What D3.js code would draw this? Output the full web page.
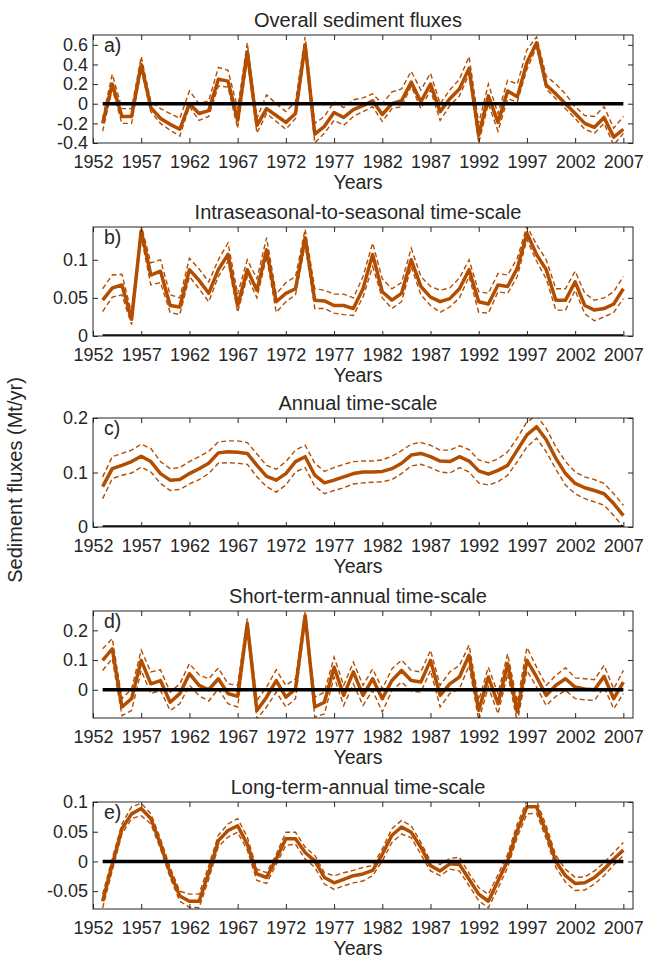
<!DOCTYPE html>
<html>
<head>
<meta charset="utf-8">
<script src="https://cdn.jsdelivr.net/npm/d3@7"></script>
<style>
  body { margin: 0; background: #fff; }
  text { font-family: "Liberation Sans", Arial, sans-serif; fill: #262626; }
</style>
</head>
<body>
<svg id="chart" width="646" height="959"></svg>
<script>
// ---- data ----
const years = [1953,1954,1955,1956,1957,1958,1959,1960,1961,1962,1963,1964,1965,1966,1967,1968,1969,1970,
  1971,1972,1973,1974,1975,1976,1977,1978,1979,1980,1981,1982,1983,1984,1985,1986,1987,1988,1989,1990,
  1991,1992,1993,1994,1995,1996,1997,1998,1999,2000,2001,2002,2003,2004,2005,2006,2007];
const xTickYears = [1952,1957,1962,1967,1972,1977,1982,1987,1992,1997,2002,2007];

// a) overall
const overallMid = [-0.20,0.20,-0.13,-0.13,0.40,-0.04,-0.15,-0.21,-0.26,0.00,-0.10,-0.07,0.25,0.23,-0.17,0.53,-0.22,-0.05,
  -0.12,-0.19,-0.10,0.60,-0.31,-0.23,-0.09,-0.14,-0.06,-0.02,0.03,-0.11,0.00,0.03,0.22,0.02,0.20,-0.08,0.05,0.15,
  0.36,-0.32,0.08,-0.19,0.13,0.07,0.42,0.62,0.19,0.10,0.00,-0.10,-0.20,-0.24,-0.14,-0.34,-0.26];
const overallUp = [-0.15,0.30,-0.05,-0.05,0.48,0.02,-0.05,-0.10,-0.15,0.13,0.00,0.03,0.37,0.34,-0.05,0.62,-0.15,0.09,
  0.00,-0.08,0.02,0.68,-0.20,-0.13,0.02,-0.04,0.04,0.06,0.10,0.00,0.12,0.15,0.33,0.14,0.31,0.00,0.14,0.25,
  0.48,-0.20,0.20,-0.10,0.24,0.20,0.55,0.68,0.28,0.20,0.10,-0.03,-0.12,-0.13,-0.03,-0.25,-0.13];
const overallLo = [-0.28,0.15,-0.20,-0.20,0.35,-0.08,-0.20,-0.27,-0.33,-0.03,-0.17,-0.13,0.18,0.17,-0.25,0.45,-0.30,-0.10,
  -0.18,-0.26,-0.15,0.55,-0.40,-0.30,-0.17,-0.22,-0.13,-0.08,-0.03,-0.18,-0.05,-0.03,0.18,-0.05,0.14,-0.17,-0.02,0.08,
  0.30,-0.40,0.00,-0.28,0.05,0.02,0.35,0.58,0.15,0.05,-0.05,-0.15,-0.26,-0.30,-0.20,-0.42,-0.30];

// b) intraseasonal-to-seasonal
const intraMid = [0.047,0.063,0.067,0.022,0.138,0.080,0.085,0.040,0.038,0.087,0.073,0.056,0.087,0.107,0.040,0.087,0.060,0.113,
  0.045,0.056,0.062,0.129,0.047,0.046,0.040,0.040,0.036,0.062,0.107,0.058,0.047,0.056,0.100,0.065,0.051,0.045,0.049,0.062,
  0.087,0.045,0.042,0.067,0.065,0.089,0.135,0.107,0.087,0.047,0.047,0.071,0.040,0.034,0.036,0.042,0.062];
const intraUp = [0.062,0.080,0.081,0.030,0.145,0.096,0.100,0.054,0.050,0.102,0.088,0.071,0.100,0.122,0.055,0.100,0.075,0.129,
  0.055,0.070,0.078,0.140,0.062,0.060,0.055,0.055,0.050,0.078,0.122,0.075,0.062,0.070,0.115,0.078,0.065,0.060,0.063,0.076,
  0.100,0.058,0.056,0.082,0.080,0.102,0.144,0.120,0.100,0.062,0.062,0.085,0.056,0.047,0.050,0.058,0.078];
const intraLo = [0.032,0.051,0.054,0.015,0.130,0.067,0.070,0.031,0.028,0.078,0.062,0.045,0.078,0.098,0.031,0.078,0.050,0.104,
  0.031,0.045,0.054,0.120,0.036,0.036,0.030,0.028,0.027,0.051,0.091,0.050,0.036,0.045,0.091,0.054,0.040,0.031,0.038,0.050,
  0.078,0.031,0.030,0.058,0.056,0.078,0.127,0.098,0.075,0.034,0.034,0.060,0.029,0.020,0.025,0.031,0.049];

// c) annual
const annualMid = [0.074,0.107,0.113,0.120,0.130,0.120,0.098,0.086,0.087,0.098,0.107,0.117,0.136,0.138,0.137,0.135,0.113,0.093,
  0.086,0.098,0.120,0.129,0.095,0.081,0.086,0.092,0.098,0.101,0.101,0.102,0.107,0.117,0.132,0.135,0.129,0.121,0.120,0.129,
  0.121,0.103,0.097,0.104,0.113,0.141,0.169,0.184,0.160,0.126,0.098,0.080,0.072,0.067,0.061,0.043,0.021];
const annualUp = [0.092,0.129,0.135,0.141,0.152,0.144,0.120,0.107,0.109,0.120,0.129,0.139,0.156,0.158,0.158,0.155,0.134,0.113,
  0.106,0.120,0.141,0.150,0.117,0.102,0.109,0.115,0.120,0.121,0.121,0.123,0.130,0.140,0.152,0.155,0.150,0.141,0.141,0.149,
  0.142,0.123,0.118,0.125,0.138,0.163,0.193,0.204,0.181,0.147,0.120,0.101,0.092,0.087,0.080,0.061,0.040];
const annualLo = [0.052,0.089,0.095,0.099,0.110,0.101,0.080,0.067,0.069,0.079,0.087,0.098,0.117,0.118,0.117,0.115,0.092,0.074,
  0.064,0.077,0.101,0.109,0.075,0.061,0.067,0.072,0.079,0.081,0.082,0.083,0.087,0.098,0.112,0.115,0.109,0.101,0.099,0.109,
  0.101,0.081,0.077,0.083,0.095,0.120,0.147,0.163,0.138,0.106,0.077,0.061,0.052,0.046,0.040,0.021,0.000];

// d) short-term-annual
const shortMid = [0.099,0.138,-0.058,-0.030,0.099,0.020,0.031,-0.042,-0.013,0.054,0.015,0.000,0.037,-0.013,-0.022,0.222,-0.070,-0.025,
  0.031,-0.025,0.003,0.250,-0.058,-0.042,0.076,-0.019,0.060,-0.019,0.037,-0.030,0.031,0.065,0.031,0.026,0.099,-0.019,0.020,0.043,
  0.116,-0.070,0.043,-0.047,0.088,-0.075,0.099,0.043,-0.019,0.015,0.037,0.009,0.003,0.000,0.045,-0.030,0.026];
const shortUp = [0.138,0.172,-0.030,0.003,0.133,0.060,0.067,-0.008,0.020,0.088,0.050,0.037,0.073,0.020,0.015,0.240,-0.036,0.009,
  0.067,0.015,0.037,0.262,-0.025,-0.008,0.110,0.015,0.093,0.015,0.070,0.003,0.070,0.100,0.065,0.060,0.133,0.015,0.060,0.082,
  0.150,-0.036,0.076,-0.013,0.121,-0.042,0.142,0.076,0.015,0.048,0.074,0.040,0.037,0.034,0.082,0.003,0.065];
const shortLo = [0.065,0.105,-0.087,-0.070,0.065,-0.013,-0.002,-0.070,-0.047,0.015,-0.020,-0.038,0.003,-0.047,-0.058,0.200,-0.098,-0.058,
  -0.008,-0.058,-0.030,0.234,-0.092,-0.081,0.043,-0.053,0.020,-0.053,-0.002,-0.075,-0.002,0.026,-0.004,-0.008,0.065,-0.058,-0.013,0.003,
  0.082,-0.103,0.009,-0.081,0.054,-0.109,0.065,0.009,-0.053,-0.022,-0.002,-0.030,-0.034,-0.036,0.009,-0.064,-0.013];

// e) long-term-annual
const longMid = [-0.067,-0.005,0.055,0.080,0.089,0.072,0.029,-0.019,-0.058,-0.067,-0.067,-0.019,0.035,0.052,0.060,0.029,-0.021,-0.027,
  0.004,0.038,0.038,0.015,0.001,-0.027,-0.036,-0.030,-0.024,-0.021,-0.015,0.012,0.044,0.058,0.049,0.024,-0.007,-0.016,-0.004,-0.005,
  -0.030,-0.055,-0.067,-0.033,0.001,0.052,0.092,0.092,0.049,0.000,-0.024,-0.037,-0.036,-0.027,-0.013,0.004,0.019];
const longUp = [-0.055,0.005,0.063,0.092,0.098,0.080,0.038,-0.010,-0.050,-0.055,-0.055,-0.007,0.044,0.063,0.072,0.041,-0.013,-0.019,
  0.012,0.049,0.049,0.024,0.010,-0.019,-0.024,-0.019,-0.015,-0.010,-0.007,0.021,0.055,0.069,0.060,0.032,0.001,-0.005,0.005,0.007,
  -0.020,-0.044,-0.055,-0.022,0.012,0.063,0.102,0.102,0.060,0.010,-0.013,-0.027,-0.026,-0.016,-0.002,0.015,0.032];
const longLo = [-0.078,-0.015,0.046,0.072,0.077,0.063,0.021,-0.027,-0.067,-0.077,-0.078,-0.030,0.025,0.041,0.049,0.019,-0.032,-0.037,
  -0.005,0.027,0.029,0.004,-0.010,-0.038,-0.047,-0.041,-0.036,-0.033,-0.024,0.001,0.032,0.046,0.040,0.012,-0.016,-0.024,-0.013,-0.016,
  -0.041,-0.066,-0.078,-0.045,-0.010,0.041,0.080,0.081,0.038,-0.010,-0.035,-0.049,-0.048,-0.038,-0.024,-0.006,0.010];

const titles = ["Overall sediment fluxes", "Intraseasonal-to-seasonal time-scale", "Annual time-scale",
  "Short-term-annual time-scale", "Long-term-annual time-scale"];
const letters = ["a)", "b)", "c)", "d)", "e)"];
const yTickSets = [[-0.4,-0.2,0,0.2,0.4,0.6], [0,0.05,0.1], [0,0.1,0.2], [0,0.1,0.2], [-0.05,0,0.05,0.1]];
const yDomains = [[-0.4,0.7], [0,0.143], [0,0.2], [-0.095,0.265], [-0.08,0.1]];
const series = [
  [overallMid, overallUp, overallLo],
  [intraMid, intraUp, intraLo],
  [annualMid, annualUp, annualLo],
  [shortMid, shortUp, shortLo],
  [longMid, longUp, longLo]
];

// ---- layout ----
const svg = d3.select('#chart');
const left = 93, right = 633;
const boxes = [[35,143],[227,336],[418,527],[611,718],[802,909]];
const orange = 'rgb(179,77,0)';
const axisColor = '#262626';
const tickFs = 18;    // tick labels
const titleFs = 20;   // panel titles
const labelFs = 19.5; // "Years", panel letters

const x = d3.scaleLinear().domain([1952, 2008]).range([left, right]);

boxes.forEach(([top, bottom], i) => {
  const y = d3.scaleLinear().domain(yDomains[i]).range([bottom, top]);
  const g = svg.append('g');

  const clipId = 'clip' + i;
  g.append('clipPath').attr('id', clipId)
    .append('rect')
    .attr('x', left).attr('y', top)
    .attr('width', right - left).attr('height', bottom - top);

  const line = d3.line()
    .x((d, j) => x(years[j]))
    .y(d => y(d));

  const plot = g.append('g').attr('clip-path', `url(#${clipId})`);
  const [mid, up, lo] = series[i];

  [up, lo].forEach(s => {
    plot.append('path')
      .datum(s)
      .attr('d', line)
      .attr('fill', 'none')
      .attr('stroke', orange)
      .attr('stroke-width', 1.4)
      .attr('stroke-dasharray', '5,3');
  });
  plot.append('path')
    .datum(mid)
    .attr('d', line)
    .attr('fill', 'none')
    .attr('stroke', orange)
    .attr('stroke-width', 3.5)
    .attr('stroke-linejoin', 'round');

  // zero line on top
  plot.append('line')
    .attr('x1', x(years[0])).attr('x2', x(years[years.length - 1]))
    .attr('y1', y(0)).attr('y2', y(0))
    .attr('stroke', '#000')
    .attr('stroke-width', 3.5);

  // axes, ticks pointing inward
  const axBottom = g.append('g').attr('transform', `translate(0,${bottom})`)
    .call(d3.axisBottom(x).tickValues(xTickYears).tickFormat(d3.format('d'))
      .tickSizeInner(-5).tickSizeOuter(0).tickPadding(12));
  const axTop = g.append('g').attr('transform', `translate(0,${top})`)
    .call(d3.axisTop(x).tickValues(xTickYears).tickFormat('')
      .tickSizeInner(-5).tickSizeOuter(0));
  const axLeft = g.append('g').attr('transform', `translate(${left},0)`)
    .call(d3.axisLeft(y).tickValues(yTickSets[i]).tickFormat(d => String(d))
      .tickSizeInner(-5).tickSizeOuter(0).tickPadding(5));
  const axRight = g.append('g').attr('transform', `translate(${right},0)`)
    .call(d3.axisRight(y).tickValues(yTickSets[i]).tickFormat('')
      .tickSizeInner(-5).tickSizeOuter(0));

  [axBottom, axTop, axLeft, axRight].forEach(a => {
    a.select('.domain').remove();
    a.selectAll('line').attr('stroke', axisColor);
    a.selectAll('text').attr('fill', axisColor)
      .style('font-size', tickFs + 'px')
      .style('font-family', '"Liberation Sans", Arial, sans-serif');
  });

  g.append('rect')
    .attr('x', left).attr('y', top)
    .attr('width', right - left).attr('height', bottom - top)
    .attr('fill', 'none')
    .attr('stroke', axisColor)
    .attr('stroke-width', 1);

  g.append('text')
    .attr('x', (left + right) / 2 - 5).attr('y', top - 8)
    .attr('text-anchor', 'middle')
    .style('font-size', titleFs + 'px')
    .text(titles[i]);

  g.append('text')
    .attr('x', (left + right) / 2 - 5).attr('y', bottom + 46)
    .attr('text-anchor', 'middle')
    .style('font-size', labelFs + 'px')
    .text('Years');

  g.append('text')
    .attr('x', left + 11).attr('y', top + 17)
    .style('font-size', labelFs + 'px')
    .text(letters[i]);
});

svg.append('text')
  .attr('transform', 'translate(22,480) rotate(-90)')
  .attr('text-anchor', 'middle')
  .style('font-size', '20px')
  .text('Sediment fluxes (Mt/yr)');
</script>
</body>
</html>
